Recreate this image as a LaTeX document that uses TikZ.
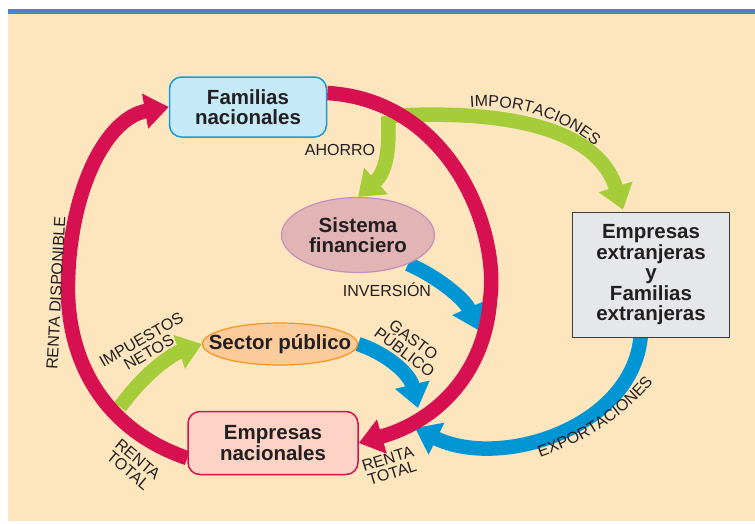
\documentclass[tikz,border=0pt]{standalone}
\usepackage{fontspec}
\setmainfont{Liberation Sans}
\usetikzlibrary{arrows.meta,calc,shapes.geometric,decorations.text}

\definecolor{fondo}{RGB}{253,229,190}
\definecolor{barra}{RGB}{74,134,197}
\definecolor{rojo}{RGB}{215,16,82}
\definecolor{verde}{RGB}{165,204,57}
\definecolor{azul}{RGB}{0,150,214}
\definecolor{texto}{RGB}{35,31,32}
\definecolor{famfill}{RGB}{198,233,248}
\definecolor{famborde}{RGB}{28,154,215}
\definecolor{sisfill}{RGB}{225,181,181}
\definecolor{sisborde}{RGB}{196,143,190}
\definecolor{secfill}{RGB}{252,203,155}
\definecolor{secborde}{RGB}{246,148,30}
\definecolor{empfill}{RGB}{252,211,196}
\definecolor{extfill}{RGB}{230,231,232}
\definecolor{extborde}{RGB}{60,60,60}

\pgfdeclarelayer{capafondo}
\pgfdeclarelayer{capaflujo}
\pgfsetlayers{capafondo,capaflujo,main}

\newcommand{\fnodo}{\fontsize{20.5}{20.5}\selectfont\bfseries}
\newcommand{\fetiq}{\fontsize{16}{15}\selectfont}

\begin{document}
\begin{tikzpicture}[x=1pt, y=-1pt,
    caja/.style={draw, line width=1.5pt, rounded corners=12pt, align=center, font=\fnodo, text=texto, inner sep=0pt},
    elipse/.style={ellipse, draw, line width=1.2pt, align=center, font=\fnodo, text=texto, inner sep=0pt},
    flujo/.style={line width=14.5pt, -{Triangle[length=24pt,width=34pt]}},
    etiqueta/.style={font=\fetiq, text=texto, align=center, inner sep=0pt},
  ]
    \useasboundingbox (0,0) rectangle (755,523);

    % sectores
    \node[caja, fill=famfill, draw=famborde, minimum width=157pt, minimum height=60pt] (fam) at (248,107) {Familias\\nacionales};
    \node[elipse, fill=sisfill, draw=sisborde, minimum width=153pt, minimum height=75pt] (sis) at (358,235) {Sistema\\financiero};
    \node[elipse, fill=secfill, draw=secborde, minimum width=155pt, minimum height=42pt, inner xsep=-17pt] (sec) at (280,344) {Sector público};
    \node[caja, fill=empfill, draw=rojo, minimum width=170pt, minimum height=63pt] (emp) at (273,443) {Empresas\\nacionales};
    \node[caja, sharp corners, fill=extfill, draw=extborde, minimum width=157pt, minimum height=125pt] (ext) at (651,275) {Empresas\\extranjeras\\y\\Familias\\extranjeras};

    \coordinate (gsrc) at (388,116);
    \coordinate (imsrc) at (120,407);
    \coordinate (invtip) at (478,330);
    \coordinate (gastip) at (418,408);
    \coordinate (exptip) at (415,428);

    \begin{pgfonlayer}{capafondo}
      \fill[white] (0,0) rectangle (755,523);
      \fill[fondo] (8,13) rectangle (755,521);
      \fill[barra] (8,9) rectangle (755,13.5);
    \end{pgfonlayer}

    \begin{pgfonlayer}{capaflujo}
      % flujos
      \draw[flujo, verde] (gsrc) .. controls (390,150) and (386,172) .. (sis.north);
      \draw[flujo, verde] (gsrc) .. controls (490,110) and (595,122) .. ($(ext.north)+(-28,-2)$);
      \draw[flujo, verde] (imsrc) .. controls (143,375) and (170,355) .. (sec.west);
      \draw[flujo, azul] (sis.-30) .. controls (440,278) and (465,300) .. (invtip);
      \draw[flujo, azul] (sec.east) .. controls (390,355) and (410,375) .. (gastip);
      \draw[flujo, azul] ($(ext.south)+(-10,-5)$) .. controls (635,428) and (500,470) .. (exptip);
      \draw[flujo, rojo] (fam.10) .. controls (450,100) and (500,230) .. (490,300) .. controls (485,370) and (440,420) .. (emp.east);
      \draw[flujo, rojo] (emp.190) .. controls (105,430) and (66,362) .. (68,282) .. controls (70,190) and (106,118) .. (fam.west);
    \end{pgfonlayer}

    % etiquetas
    \node[etiqueta, rotate=87] (lrd) at (56,293) {RENTA DISPONIBLE};
    \node[etiqueta] (lah) at (340,150) {AHORRO};
    \node[etiqueta] (lin) at (387,290) {INVERSIÓN};
    \node[etiqueta, rotate=30] (lim) at (145,346) {IMPUESTOS\\NETOS};
    \node[etiqueta, rotate=-37] (lga) at (409,346) {GASTO\\PÚBLICO};
    \node[etiqueta, rotate=-40] (lrt1) at (133,465) {RENTA\\TOTAL};
    \node[etiqueta, rotate=17] (lrt2) at (390,466) {RENTA\\TOTAL};
    \path[decorate, decoration={text along path, text align=center, text={|\fetiq\color{texto}|IMPORTACIONES}}]
      (464,108) .. controls (515,102) and (565,118) .. (600,151);
    \path[decorate, decoration={text along path, text align=center, text={|\fetiq\color{texto}|EXPORTACIONES}}]
      (526,462) .. controls (575,448) and (630,418) .. (662,370);
\end{tikzpicture}
\end{document}
